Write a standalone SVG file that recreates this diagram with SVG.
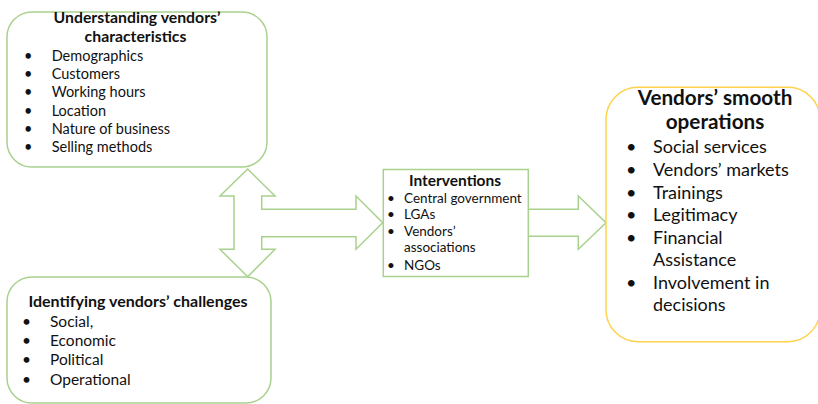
<svg xmlns="http://www.w3.org/2000/svg" width="818" height="404" viewBox="0 0 818 404">
  <style>
    .box { fill: #ffffff; stroke: #A9D18E; stroke-width: 1.5; }
    .gold { fill: #ffffff; stroke: #FFD24D; stroke-width: 1.5; }
    .arrow { fill: #ffffff; stroke: #A9D18E; stroke-width: 1.5; stroke-linejoin: miter; }
    text { font-family: Lato, "Liberation Sans", sans-serif; fill: #111111; }
    .b { font-weight: bold; }
    .s1 { font-size: 14.5px; }
    .t1 { font-size: 15.8px; }
    .s2 { font-size: 15.5px; }
    .t2 { font-size: 16px; }
    .s3 { font-size: 13.5px; }
    .t3 { font-size: 15.5px; }
    .s4 { font-size: 18px; }
    .t4 { font-size: 20.7px; }
  </style>

  <!-- connectors: double-headed vertical arrow joined to the arrow into Interventions, and the arrow out of it -->
  <g id="connectors">
    <polygon class="arrow" points="247.7,169 275,196 261.7,196 261.7,209.3 356,209.3 356,196 382.7,222.7 356,249.3 356,236.7 261.7,236.7 261.7,249.3 275,249.3 247.7,276.7 220,249.3 234,249.3 234,196 220,196"/>
    <polygon class="arrow" points="528.3,209.3 578.3,209.3 578.3,196 606,222.7 578.3,249.3 578.3,236.3 528.3,236.3"/>
  </g>

  <g id="characteristics">
    <rect class="box" x="7" y="12" width="260" height="155" rx="25" ry="25"/>
    <text class="b t1" x="137" y="22.5" text-anchor="middle">Understanding vendors’</text>
    <text class="b t1" x="135.5" y="42" text-anchor="middle">characteristics</text>
    <g class="s1">
      <text x="24" y="61">•</text><text x="51.7" y="61">Demographics</text>
      <text x="24" y="79.2">•</text><text x="51.7" y="79.2">Customers</text>
      <text x="24" y="97.4">•</text><text x="51.7" y="97.4">Working hours</text>
      <text x="24" y="115.6">•</text><text x="51.7" y="115.6">Location</text>
      <text x="24" y="133.8">•</text><text x="51.7" y="133.8">Nature of business</text>
      <text x="24" y="152">•</text><text x="51.7" y="152">Selling methods</text>
    </g>
  </g>

  <g id="challenges">
    <rect class="box" x="7" y="277" width="264" height="126" rx="25" ry="25"/>
    <text class="b t2" x="138" y="306.7" text-anchor="middle">Identifying vendors’ challenges</text>
    <g class="s2">
      <text x="22" y="326.7">•</text><text x="50" y="326.7">Social,</text>
      <text x="22" y="346">•</text><text x="50" y="346">Economic</text>
      <text x="22" y="365.3">•</text><text x="50" y="365.3">Political</text>
      <text x="22" y="384.6">•</text><text x="50" y="384.6">Operational</text>
    </g>
  </g>

  <g id="interventions">
    <rect class="box" x="383.3" y="169.5" width="145" height="107"/>
    <text class="b t3" x="455" y="185.5" text-anchor="middle">Interventions</text>
    <g class="s3">
      <text x="387" y="202.7">•</text><text x="404" y="202.7">Central government</text>
      <text x="387" y="219.3">•</text><text x="404" y="219.3">LGAs</text>
      <text x="387" y="236">•</text><text x="404" y="236">Vendors’</text>
      <text x="404" y="252.2">associations</text>
      <text x="387" y="270">•</text><text x="404" y="270">NGOs</text>
    </g>
  </g>

  <g id="smooth-operations">
    <rect class="gold" x="606" y="87.3" width="214" height="254.4" rx="32" ry="32"/>
    <text class="b t4" x="715" y="105" text-anchor="middle">Vendors’ smooth</text>
    <text class="b t4" x="715" y="129.3" text-anchor="middle">operations</text>
    <g class="s4">
      <text x="626" y="153">•</text><text x="653" y="153">Social services</text>
      <text x="626" y="175.8">•</text><text x="653" y="175.8">Vendors’ markets</text>
      <text x="626" y="198.6">•</text><text x="653" y="198.6">Trainings</text>
      <text x="626" y="221.4">•</text><text x="653" y="221.4">Legitimacy</text>
      <text x="626" y="244">•</text><text x="653" y="244">Financial</text>
      <text x="653" y="266">Assistance</text>
      <text x="626" y="288.5">•</text><text x="653" y="288.5">Involvement in</text>
      <text x="653" y="310.5">decisions</text>
    </g>
  </g>
</svg>
